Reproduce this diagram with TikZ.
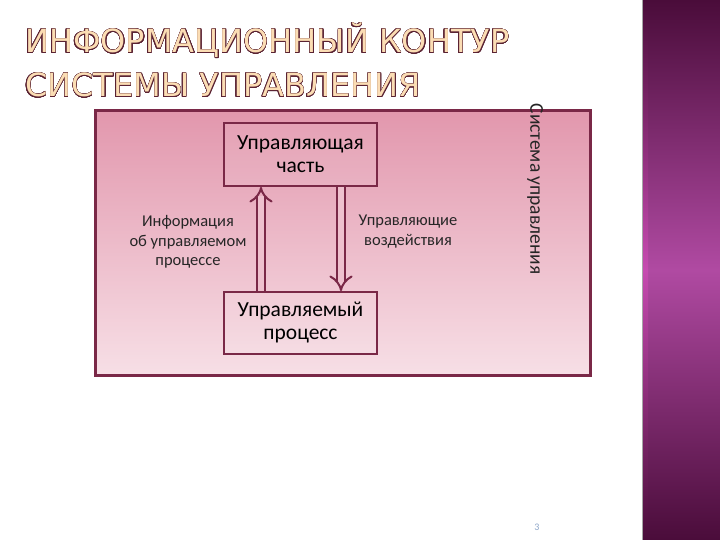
\documentclass[tikz,border=0pt]{standalone}
\usepackage{fontspec}
\setmainfont{Carlito}
\newfontfamily\titlefont{DejaVu Sans}
\usepackage{contour}
\contourlength{0.45pt}
\contournumber{24}
\usetikzlibrary{arrows.meta}
\definecolor{maroon}{HTML}{7A2847}
\definecolor{boxtop}{HTML}{E297AD}
\definecolor{boxbot}{HTML}{F7DFE6}
\definecolor{sidedark}{HTML}{4A0C3A}
\definecolor{sidemid}{HTML}{B04AA2}
\definecolor{stripemid}{HTML}{C64BB0}
\definecolor{titlefill}{HTML}{FBDDB4}
\definecolor{titleedge}{HTML}{5A2232}
\definecolor{pagenum}{HTML}{8FA7C9}
\tikzset{
  sysbox/.style={draw=maroon, line width=3pt, top color=boxtop, bottom color=boxbot,
    minimum width=495pt, minimum height=264pt, inner sep=0pt},
  partbox/.style={draw=maroon, line width=1.8pt, fill=white, fill opacity=0.08,
    text opacity=1, minimum width=153pt, align=center, inner sep=0pt,
    font=\fontsize{21.5}{23}\selectfont},
  lbl/.style={align=center, font=\fontsize{16.5}{19.5}\selectfont, text=black!85},
  flow/.style={double=boxtop!60!white, double distance=6pt, line width=2pt, draw=maroon,
    -{Implies}, shorten >=0pt},
  titletext/.style={anchor=base west, inner sep=0pt,
    font=\titlefont\fontsize{32}{32}\selectfont}
}
\begin{document}
\begin{tikzpicture}[x=1pt,y=-1pt]
\useasboundingbox (0,0) rectangle (720,540);
\fill[white] (0,0) rectangle (720,540);
% sidebar
\shade[top color=sidedark, bottom color=sidedark, middle color=sidemid] (642,0) rectangle (720,540);
\shade[top color=sidedark, bottom color=sidedark, middle color=stripemid] (642,0) rectangle (648,540);
\draw[black!35, line width=0.8pt] (642,0) -- (642,540);
% title
\node[titletext] (t1) at (25,53) {\contour{titleedge}{\color{titlefill}ИНФОРМАЦИОННЫЙ КОНТУР}};
\node[titletext] (t2) at (25,97) {\contour{titleedge}{\color{titlefill}СИСТЕМЫ УПРАВЛЕНИЯ}};
% system box
\node[sysbox] (sys) at (342.5,243) {};
\node[partbox, minimum height=63pt] (upper) at (300.5,154.5) {Управляющая\\часть};
\node[partbox, minimum height=62pt] (lower) at (300.5,323) {Управляемый\\процесс};
\coordinate (ux) at (261,0);
\coordinate (dx) at (341,0);
\draw[flow] (lower.north -| ux) -- (upper.south -| ux);
\draw[flow] (upper.south -| dx) -- (lower.north -| dx);
\node[lbl] (info) at (188,242) {Информация\\об управляемом\\процессе};
\node[lbl] (ctrl) at (408,231.5) {Управляющие\\воздействия};
\node[rotate=-90, font=\fontsize{19.5}{19.5}\selectfont, text=black!85] (sysname) at (535,189) {Система управления};
\node[font=\fontsize{10}{10}\selectfont, text=pagenum] (page) at (537,527) {3};
\end{tikzpicture}
\end{document}
